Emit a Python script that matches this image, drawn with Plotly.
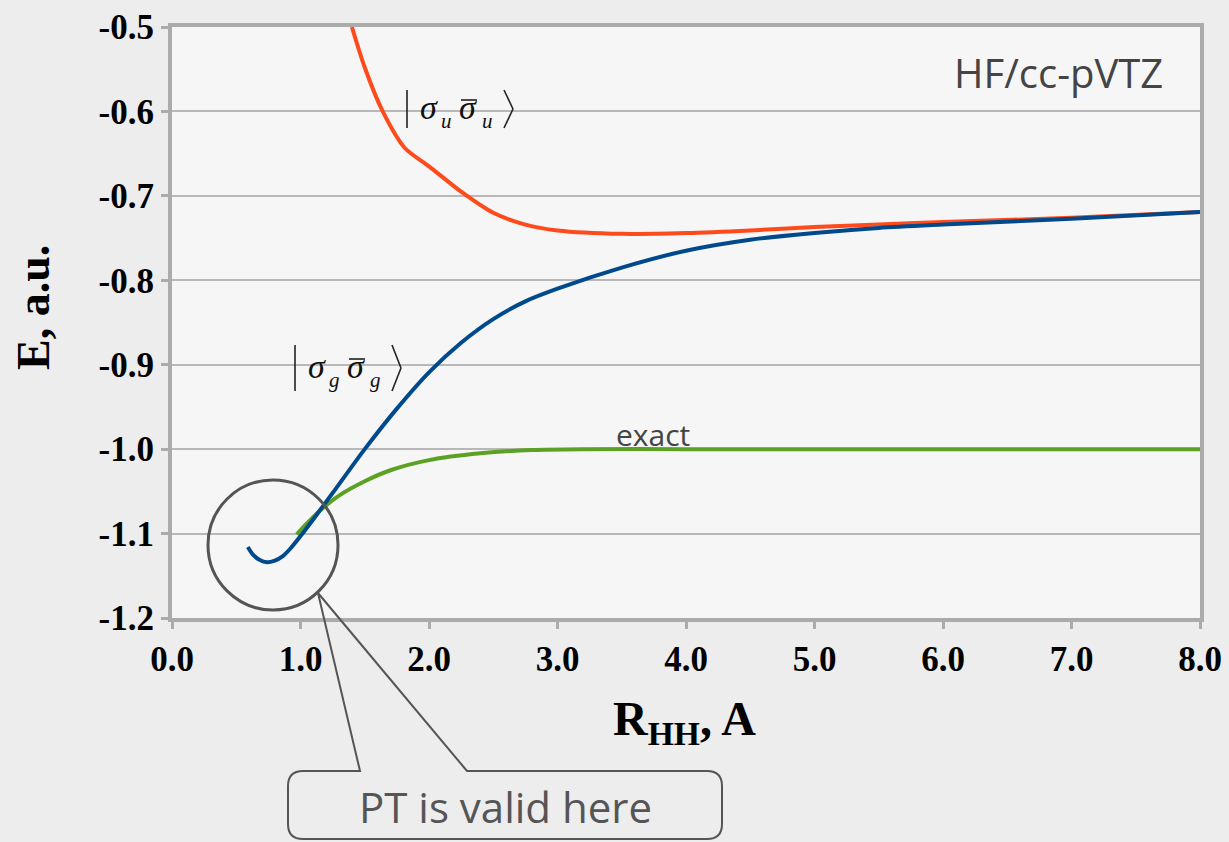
import plotly.graph_objects as go

# ---- data ----
r_g = [0.59, 0.63, 0.68, 0.74, 0.80, 0.86, 0.92, 1.0, 1.1, 1.25, 1.5, 1.75, 2.0, 2.25, 2.5, 2.75, 3.0, 3.5, 4.0, 4.5, 5.0, 5.5, 6.0, 7.0, 8.0]
e_g = [-1.116, -1.125, -1.131, -1.134, -1.132, -1.127, -1.118, -1.103, -1.083, -1.052, -1.000, -0.952, -0.909, -0.874, -0.846, -0.825, -0.810, -0.785, -0.765, -0.752, -0.744, -0.738, -0.734, -0.727, -0.719]

r_u = [1.40, 1.50, 1.64, 1.81, 2.0, 2.25, 2.5, 2.75, 3.0, 3.5, 4.0, 4.5, 5.0, 5.5, 6.0, 7.0, 8.0]
e_u = [-0.500, -0.548, -0.600, -0.643, -0.665, -0.695, -0.720, -0.734, -0.741, -0.745, -0.744, -0.741, -0.737, -0.734, -0.731, -0.726, -0.719]

r_ex = [0.97, 1.05, 1.15, 1.3, 1.5, 1.7, 2.0, 2.4, 2.8, 3.2, 4.0, 5.0, 6.0, 7.0, 8.0]
e_ex = [-1.101, -1.088, -1.073, -1.055, -1.038, -1.025, -1.013, -1.005, -1.001, -1.000, -1.000, -1.000, -1.000, -1.000, -1.000]

x_ticks = [0, 1, 2, 3, 4, 5, 6, 7, 8]
y_ticks = [-1.2, -1.1, -1.0, -0.9, -0.8, -0.7, -0.6, -0.5]

# ---- layout helpers (pixel -> paper) ----
W, H = 1229, 842
ML, MR, MT, MB = 172, 29, 27, 224
PW, PH = W - ML - MR, H - MT - MB


def px(xp):
    return (xp - ML) / PW


def py(yp):
    return (H - MB - yp) / PH


fig = go.Figure()
fig.add_trace(go.Scatter(x=r_u, y=e_u, mode="lines", line=dict(color="#ff4a1c", width=4, shape="spline", smoothing=0.8),
                         showlegend=False, hoverinfo="skip"))
fig.add_trace(go.Scatter(x=r_ex, y=e_ex, mode="lines", line=dict(color="#5ba224", width=4, shape="spline", smoothing=0.8),
                         showlegend=False, hoverinfo="skip"))
fig.add_trace(go.Scatter(x=r_g, y=e_g, mode="lines", line=dict(color="#004a8c", width=4, shape="spline", smoothing=0.8),
                         showlegend=False, hoverinfo="skip"))

serif = "Liberation Serif, DejaVu Serif"
comic = "Open Sans, DejaVu Sans"
tickfont = dict(family=serif, size=35, color="#000")
fig.update_xaxes(range=[0, 8], tickvals=x_ticks, ticktext=[f"<b>{v:.1f}</b>" for v in x_ticks],
                 tickfont=tickfont, showgrid=False, zeroline=False,
                 showline=True, mirror=True, linecolor="#ababab", linewidth=4,
                 ticks="outside", ticklen=7, tickwidth=3, tickcolor="#ababab")
fig.update_yaxes(range=[-1.2, -0.5], tickvals=y_ticks, ticktext=[f"<b>{v:.1f}</b>" for v in y_ticks],
                 tickfont=tickfont, showgrid=True, gridcolor="#b8b8b8", gridwidth=2, zeroline=False,
                 showline=True, mirror=True, linecolor="#ababab", linewidth=4,
                 ticks="outside", ticklen=7, tickwidth=3, tickcolor="#ababab")


def A(xp, yp, text, size, family, color="#000", angle=0):
    return dict(x=px(xp), y=py(yp), xref="paper", yref="paper", text=text, textangle=angle,
                xanchor="center", yanchor="middle", showarrow=False,
                font=dict(family=family, size=size, color=color))


ann = [
    A(33, 308, "<b>E, a.u.</b>", 46, serif, angle=-90),
    A(684, 722, "<b>R<sub>HH</sub>, A</b>", 48, serif),
    A(1058, 72, "HF/cc-pVTZ", 40, comic, "#444"),
    A(653, 434, "exact", 30, comic, "#444"),
    A(505, 806, "PT is valid here", 42, comic, "#555"),
]
shapes = []


def seg(xa, ya, xb, yb, w=1.6, c="#222"):
    shapes.append(dict(type="line", xref="paper", yref="paper",
                       x0=px(xa), x1=px(xb), y0=py(ya), y1=py(yb),
                       line=dict(color=c, width=w)))


def ket(x0, yc, sub, half):
    # |σ_s σ̄_s⟩ built from pieces
    seg(x0, yc - half, x0, yc + half)
    ann.append(A(x0 + 22, yc - 2, "<i>σ</i>", 34, serif, "#111"))
    ann.append(A(x0 + 39, yc + 12, f"<i>{sub}</i>", 21, serif, "#111"))
    ann.append(A(x0 + 61, yc - 2, "<i>σ</i>", 34, serif, "#111"))
    ann.append(A(x0 + 80, yc + 12, f"<i>{sub}</i>", 21, serif, "#111"))
    seg(x0 + 54, yc - 9, x0 + 70, yc - 9, w=1.5, c="#111")
    seg(x0 + 97, yc - half, x0 + 106, yc)
    seg(x0 + 106, yc, x0 + 97, yc + half)


ket(407, 109, "u", 19)
ket(295, 368, "g", 23)

# callout box with pointer
pts = [("M", 360, 771), ("L", 318, 593), ("L", 467, 771), ("L", 707, 771)]
path = ""
for c, a, b in pts:
    path += f"{c} {px(a):.5f},{py(b):.5f} "
path += f"Q {px(722):.5f},{py(771):.5f} {px(722):.5f},{py(786):.5f} "
path += f"L {px(722):.5f},{py(824):.5f} "
path += f"Q {px(722):.5f},{py(839):.5f} {px(707):.5f},{py(839):.5f} "
path += f"L {px(303):.5f},{py(839):.5f} "
path += f"Q {px(288):.5f},{py(839):.5f} {px(288):.5f},{py(824):.5f} "
path += f"L {px(288):.5f},{py(786):.5f} "
path += f"Q {px(288):.5f},{py(771):.5f} {px(303):.5f},{py(771):.5f} Z"

shapes += [
    dict(type="circle", xref="x", yref="y", xsizemode="pixel", ysizemode="pixel",
         xanchor=0.786, yanchor=-1.1135, x0=-65, x1=65, y0=-65, y1=65,
         line=dict(color="#555", width=3), layer="above"),
    dict(type="path", xref="paper", yref="paper", path=path,
         line=dict(color="#555", width=2), fillcolor="rgba(0,0,0,0)", layer="above"),
]

fig.update_layout(width=W, height=H, margin=dict(l=ML, r=MR, t=MT, b=MB, autoexpand=False),
                  paper_bgcolor="#ededed", plot_bgcolor="#f6f6f6",
                  annotations=ann, shapes=shapes, showlegend=False)

fig.write_html("out.html")
